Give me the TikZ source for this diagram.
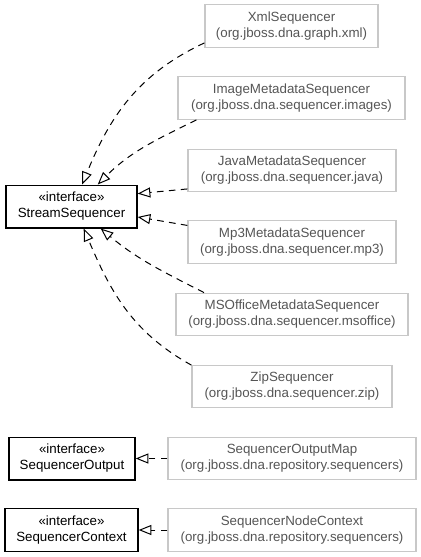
\documentclass[tikz,border=0pt]{standalone}
\usepackage{fontspec}
\setmainfont{Liberation Sans}
\usetikzlibrary{arrows.meta}

\definecolor{implgray}{RGB}{85,85,85}
\definecolor{boxgray}{RGB}{200,200,200}

\tikzset{
  iface/.style={draw=black, line width=1pt, fill=white, align=center,
    minimum height=32pt, inner sep=2pt, font=\fontsize{10}{12}\selectfont},
  impl/.style={draw=boxgray, line width=0.9pt, text=implgray, align=center,
    minimum height=32pt, inner sep=2pt, font=\fontsize{10}{12}\selectfont},
  realize/.style={-{Triangle[open, length=9.5pt, width=7.5pt]}, dash pattern=on 5pt off 4pt,
    line width=0.75pt}
}

\begin{document}
\begin{tikzpicture}[x=0.75pt, y=-0.75pt]
  \useasboundingbox (0,0) rectangle (421,557);

  % Interfaces
  \node[iface, minimum width=98.25pt] (stream) at (71.5,206.5) {«interface»\\StreamSequencer};
  \node[iface, minimum width=94.5pt] (output) at (72,458.5) {«interface»\\SequencerOutput};
  \node[iface, minimum width=99.75pt] (context) at (71.5,530) {«interface»\\SequencerContext};

  % Implementations
  \node[impl, minimum width=129.75pt] (xml) at (291.5,26) {XmlSequencer\\(org.jboss.dna.graph.xml)};
  \node[impl, minimum width=170.25pt] (image) at (291.5,98) {ImageMetadataSequencer\\(org.jboss.dna.sequencer.images)};
  \node[impl, minimum width=156pt] (java) at (292,170.5) {JavaMetadataSequencer\\(org.jboss.dna.sequencer.java)};
  \node[impl, minimum width=156pt] (mp3) at (292,242) {Mp3MetadataSequencer\\(org.jboss.dna.sequencer.mp3)};
  \node[impl, minimum width=174pt] (msoffice) at (292,314.5) {MSOfficeMetadataSequencer\\(org.jboss.dna.sequencer.msoffice)};
  \node[impl, minimum width=150pt] (zip) at (292,386.5) {ZipSequencer\\(org.jboss.dna.sequencer.zip)};
  \node[impl, minimum width=186pt] (outmap) at (292,458.5) {SequencerOutputMap\\(org.jboss.dna.repository.sequencers)};
  \node[impl, minimum width=186pt] (nodectx) at (292,530) {SequencerNodeContext\\(org.jboss.dna.repository.sequencers)};

  % Realizations of StreamSequencer
  \draw[realize] (xml.191) to[out=205, in=68] (stream.64);
  \draw[realize] (image.193) to[out=206, in=45] (stream.40);
  \draw[realize] (java.190) -- (stream.11);
  \draw[realize] (mp3.171) -- (stream.351);
  \draw[realize] (msoffice.166) to[out=153, in=320] (stream.323);
  \draw[realize] (zip.168) to[out=151, in=293] (stream.299);

  % Other realizations
  \draw[realize] (outmap.west) -- (output.east);
  \draw[realize] (nodectx.west) -- (context.east);
\end{tikzpicture}
\end{document}
